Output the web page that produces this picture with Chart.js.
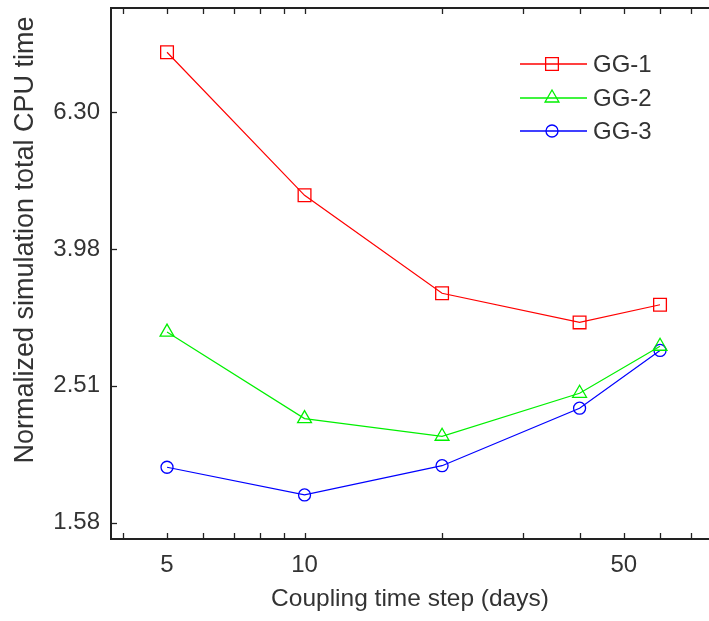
<!DOCTYPE html>
<html>
<head>
<meta charset="utf-8">
<script src="https://cdn.jsdelivr.net/npm/chart.js@4.4.1/dist/chart.umd.min.js"></script>
<style>
  html, body { margin: 0; padding: 0; background: #ffffff; overflow: hidden; }
  #wrap { width: 709px; height: 621px; position: relative; }
</style>
</head>
<body>
<div id="wrap"><canvas id="c"></canvas></div>
<script>
// ---- data ----
const steps = [5, 10, 20, 40, 60];
const gg1 = [7.72, 4.77, 3.43, 3.11, 3.30];
const gg2 = [3.01, 2.25, 2.12, 2.45, 2.87];
const gg3 = [1.91, 1.74, 1.92, 2.33, 2.83];
const seriesNames = ['GG-1', 'GG-2', 'GG-3'];
const xTickValues = [5, 10, 50];
const xMinorTicks = [4, 5, 6, 7, 8, 9, 10, 20, 30, 40, 50, 60, 70];
const yTickValues = [1.585, 2.512, 3.981, 6.310];
const yTickLabels = ['1.58', '2.51', '3.98', '6.30'];
const xTitle = 'Coupling time step (days)';
const yTitle = 'Normalized simulation total CPU time';

const FONT = "'Liberation Sans', Arial, sans-serif";
const TEXT = '#333333';
const AXIS = '#222222';

function pts(ys) { return steps.map((x, i) => ({ x: x, y: ys[i] })); }

const styles = [
  { color: '#ff0000', shape: 'rect', r: 9 },
  { color: '#00f000', shape: 'triangle', r: 8 },
  { color: '#0000ff', shape: 'circle', r: 6 }
];
const allData = [gg1, gg2, gg3];

const datasets = allData.map((d, i) => ({
  label: seriesNames[i],
  data: pts(d),
  borderColor: styles[i].color,
  backgroundColor: 'rgba(0,0,0,0)',
  borderWidth: 1.2,
  pointStyle: styles[i].shape,
  pointRadius: styles[i].r,
  pointBorderWidth: 1.3,
  pointBorderColor: styles[i].color,
  pointBackgroundColor: 'rgba(0,0,0,0)',
  tension: 0,
  fill: false,
  clip: false
}));

function drawMarker(ctx, shape, r, x, y) {
  ctx.beginPath();
  if (shape === 'rect') {
    const s = Math.SQRT1_2 * r;
    ctx.rect(x - s, y - s, 2 * s, 2 * s);
  } else if (shape === 'triangle') {
    let rad = 0;
    ctx.moveTo(x + Math.sin(rad) * r, y - Math.cos(rad) * r);
    rad += 2 * Math.PI / 3;
    ctx.lineTo(x + Math.sin(rad) * r, y - Math.cos(rad) * r);
    rad += 2 * Math.PI / 3;
    ctx.lineTo(x + Math.sin(rad) * r, y - Math.cos(rad) * r);
    ctx.closePath();
  } else {
    ctx.arc(x, y, r, 0, Math.PI * 2);
  }
  ctx.stroke();
}

const framePlugin = {
  id: 'frame',
  afterDraw(chart) {
    const ctx = chart.ctx;
    const a = chart.chartArea;
    const xs = chart.scales.x;
    const ys = chart.scales.y;
    ctx.save();
    ctx.strokeStyle = AXIS;
    // top line
    ctx.lineWidth = 2;
    ctx.beginPath();
    ctx.moveTo(a.left - 1, a.top);
    ctx.lineTo(a.right + 2, a.top);
    ctx.stroke();
    // inward ticks on x (top and bottom)
    ctx.lineWidth = 1.3;
    xMinorTicks.forEach(v => {
      const px = Math.round(xs.getPixelForValue(v)) + 0.5;
      ctx.beginPath();
      ctx.moveTo(px, a.bottom);
      ctx.lineTo(px, a.bottom - 6);
      ctx.moveTo(px, a.top);
      ctx.lineTo(px, a.top + 6);
      ctx.stroke();
    });
    // inward ticks on y (left)
    yTickValues.forEach(v => {
      const py = Math.round(ys.getPixelForValue(v)) + 0.5;
      ctx.beginPath();
      ctx.moveTo(a.left, py);
      ctx.lineTo(a.left + 6, py);
      ctx.stroke();
    });
    // y axis title
    ctx.save();
    ctx.translate(26, 240);
    ctx.rotate(-Math.PI / 2);
    ctx.fillStyle = TEXT;
    ctx.font = '27px ' + FONT;
    ctx.textAlign = 'center';
    ctx.textBaseline = 'middle';
    ctx.fillText(yTitle, 0, 0);
    ctx.restore();
    // legend
    const lx0 = 520, lx1 = 587, mx = 552, tx = 593;
    const ly = [64, 98, 131];
    chart.data.datasets.forEach((ds, i) => {
      const y = ly[i];
      ctx.strokeStyle = ds.borderColor;
      ctx.lineWidth = 1.3;
      ctx.beginPath();
      ctx.moveTo(lx0, y);
      ctx.lineTo(lx1, y);
      ctx.stroke();
      drawMarker(ctx, styles[i].shape, styles[i].r, mx, y);
      ctx.fillStyle = TEXT;
      ctx.font = '24px ' + FONT;
      ctx.textAlign = 'left';
      ctx.textBaseline = 'middle';
      ctx.fillText(ds.label, tx, y + 1);
    });
    ctx.restore();
  }
};

new Chart(document.getElementById('c'), {
  type: 'line',
  data: { datasets: datasets },
  plugins: [framePlugin],
  options: {
    responsive: true,
    maintainAspectRatio: false,
    animation: false,
    layout: { autoPadding: false, padding: { top: 8, right: 0, left: 0, bottom: 0 } },
    plugins: { legend: { display: false }, tooltip: { enabled: false } },
    scales: {
      x: {
        type: 'logarithmic',
        position: 'bottom',
        min: 3.77,
        max: 76.8,
        afterBuildTicks: (s) => { s.ticks = xTickValues.map(v => ({ value: v })); },
        afterFit: (s) => { s.height = 82; s.paddingLeft = 0; s.paddingRight = 0; },
        ticks: {
          autoSkip: false,
          maxRotation: 0,
          padding: 12,
          color: TEXT,
          font: { family: FONT, size: 24 },
          callback: (v) => String(v)
        },
        grid: { display: true, drawOnChartArea: false, drawTicks: false },
        border: { display: true, color: AXIS, width: 2 },
        title: {
          display: true,
          text: xTitle,
          color: TEXT,
          font: { family: FONT, size: 24.5 },
          padding: { top: 0, bottom: 7 }
        }
      },
      y: {
        type: 'logarithmic',
        position: 'left',
        min: 1.5003,
        max: 8.96,
        afterBuildTicks: (s) => { s.ticks = yTickValues.map(v => ({ value: v })); },
        afterFit: (s) => { s.width = 111; s.paddingTop = 0; s.paddingBottom = 0; },
        ticks: {
          autoSkip: false,
          padding: 11,
          color: TEXT,
          font: { family: FONT, size: 24 },
          callback: (v) => {
            const i = yTickValues.indexOf(v);
            return i >= 0 ? yTickLabels[i] : '';
          }
        },
        grid: { display: true, drawOnChartArea: false, drawTicks: false },
        border: { display: true, color: AXIS, width: 2 },
        title: { display: false }
      }
    }
  }
});
</script>
</body>
</html>
